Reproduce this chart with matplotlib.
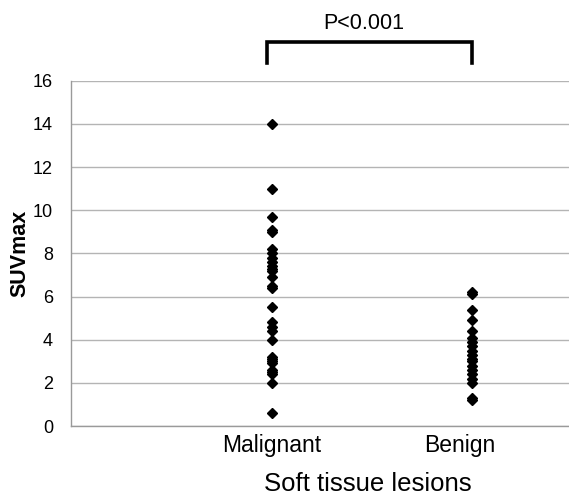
import matplotlib
matplotlib.use("Agg")
import matplotlib.pyplot as plt
import matplotlib.transforms as mtransforms

# ---------------------------------------------------------------------
# Data
# ---------------------------------------------------------------------
categories = ["Malignant", "Benign"]
category_pos = [1, 2]

malignant_suv = [14.0, 11.0, 9.7, 9.1, 9.0, 8.2, 8.0, 7.8, 7.6, 7.4, 7.3,
                 7.2, 6.9, 6.5, 6.4, 5.5, 4.8, 4.6, 4.4, 4.0, 3.2, 3.1,
                 3.0, 2.9, 2.6, 2.5, 2.4, 2.0, 0.6]
benign_suv = [6.2, 6.1, 5.4, 4.9, 4.4, 4.1, 3.9, 3.7, 3.5, 3.3, 3.1,
              3.0, 2.8, 2.6, 2.4, 2.2, 2.0, 1.3, 1.2]

p_text = "P<0.001"
y_ticks = [0, 2, 4, 6, 8, 10, 12, 14, 16]

# ---------------------------------------------------------------------
# Plot
# ---------------------------------------------------------------------
plt.rcParams['font.family'] = ['Liberation Sans', 'DejaVu Sans']

fig = plt.figure(figsize=(5.69, 4.96), dpi=100)
ax = fig.add_axes([0.125, 0.141, 0.878, 0.696])

groups = [malignant_suv, benign_suv]
for pos, vals in zip(category_pos, groups):
    ax.plot([pos] * len(vals), vals, linestyle='none', marker='D',
            markersize=4.7, color='black', clip_on=False, zorder=3)

ax.set_xlim(0, 2.49)
ax.set_ylim(0, 16)
ax.set_yticks(y_ticks)
ax.set_yticklabels([str(t) for t in y_ticks], fontsize=13)
ax.grid(axis='y', color='#b4b4b4', linewidth=1.0)
ax.set_axisbelow(True)
ax.tick_params(axis='both', length=0)
ax.tick_params(axis='y', pad=13)
ax.tick_params(axis='x', pad=6)

ax.set_xticks(category_pos)
ax.set_xticklabels(categories, fontsize=16.5)
# Benign label sits slightly left of its points in the original
benign_label = ax.get_xticklabels()[1]
benign_label.set_transform(benign_label.get_transform() +
                           mtransforms.ScaledTranslation(-0.13, 0, fig.dpi_scale_trans))

for side in ['top', 'right']:
    ax.spines[side].set_visible(False)
for side in ['left', 'bottom']:
    ax.spines[side].set_color('#9a9a9a')
    ax.spines[side].set_linewidth(1.0)

ax.set_ylabel("SUVmax", fontsize=15.5, fontweight='bold')
ax.yaxis.set_label_coords(-0.082, 0.5)
fig.text(0.647, 0.01, "Soft tissue lesions", fontsize=18.5, ha='center', va='baseline')

# Significance bracket
x_left = category_pos[0] - 0.025
x_right = category_pos[1]
ax.plot([x_left, x_left, x_right, x_right], [16.85, 17.78, 17.78, 16.85],
        color='black', linewidth=2.6, clip_on=False, solid_joinstyle='miter')
ax.text((x_left + x_right) / 2 - 0.03, 18.65, p_text, fontsize=15.5,
        ha='center', va='center')

fig.savefig("out.png", dpi=100)
